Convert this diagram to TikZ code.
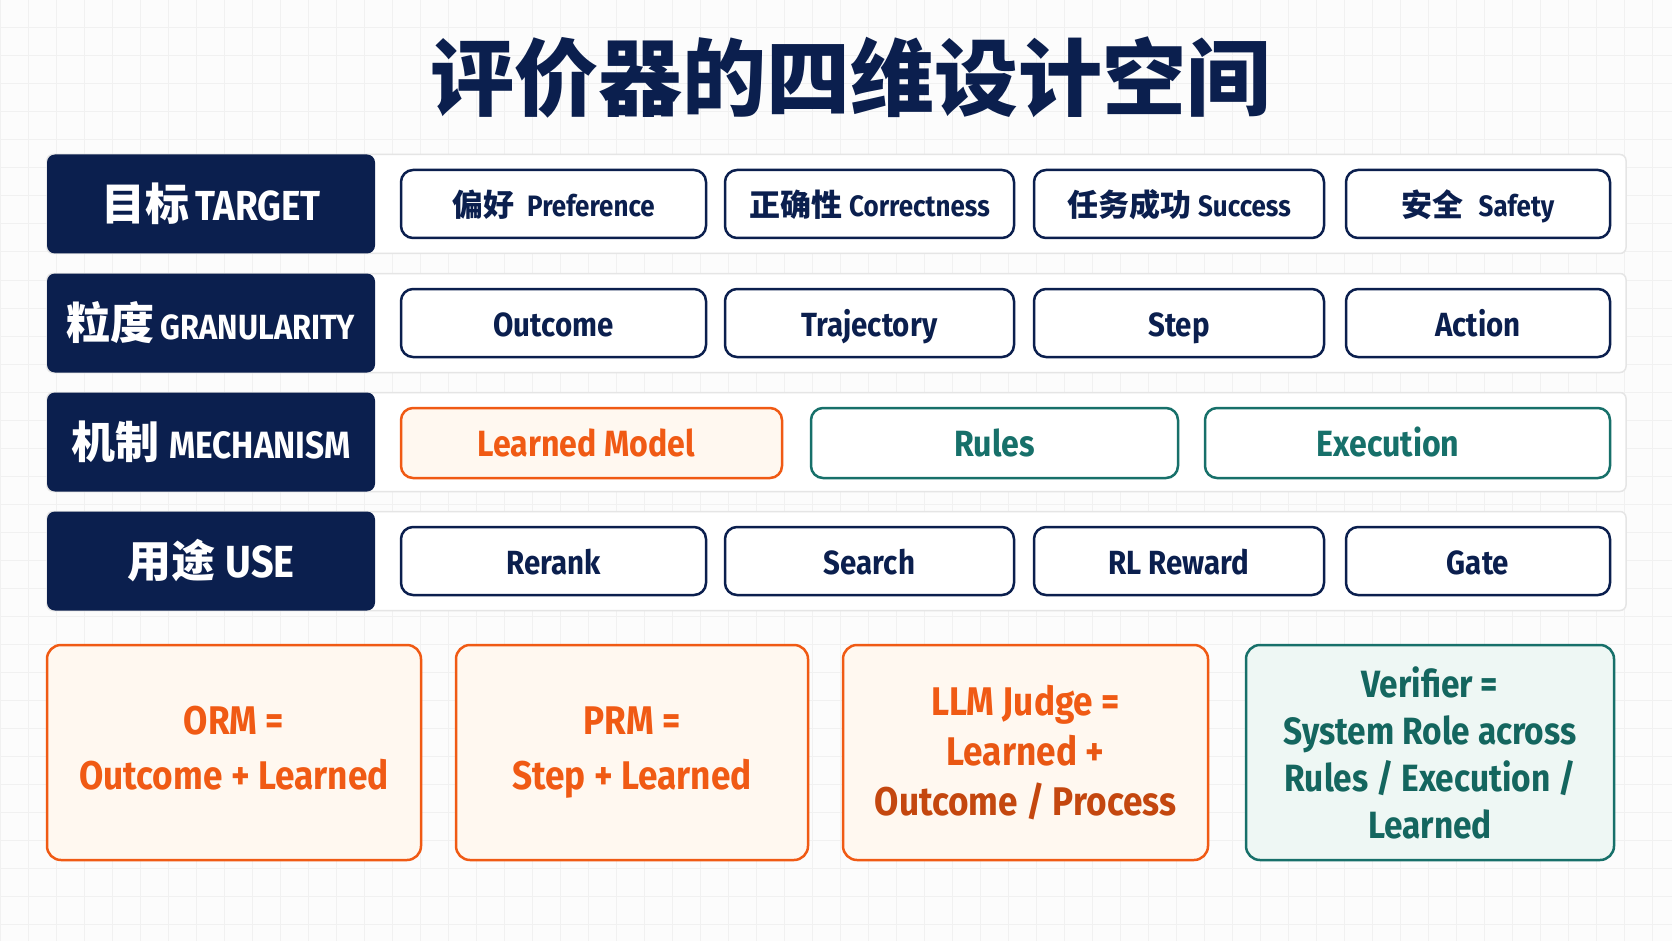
\documentclass[tikz,border=0pt]{standalone}
\usepackage{fontspec}
\setmainfont{Fira Sans}[FakeStretch=0.88]
\newfontfamily\cjk{Noto Sans CJK SC}

\definecolor{navy}{HTML}{0B1F4E}
\definecolor{accent}{HTML}{F05A14}
\definecolor{rust}{HTML}{C4470F}
\definecolor{tealc}{HTML}{17706A}
\definecolor{deepteal}{HTML}{14665F}
\definecolor{paper}{HTML}{FCFCFC}
\definecolor{gridc}{HTML}{F1F1F1}
\definecolor{panelline}{HTML}{E5E5E5}
\definecolor{warmfill}{HTML}{FFF8F0}
\definecolor{mintfill}{HTML}{EEF7F4}

\newcommand{\zh}[2]{{\cjk\fontsize{#1}{#1}\selectfont #2}}
\newcommand{\lat}[2]{{\fontsize{#1}{#1}\selectfont #2}}
\newcommand{\padright}[1]{\rule{#1}{0pt}}

\begin{document}
\begin{tikzpicture}[x=1pt, y=-1pt,
    dimbox/.style={fill=navy, rounded corners=8pt, inner sep=0pt,
        minimum width=328pt, minimum height=99pt, text=white, font=\bfseries},
    panel/.style={draw=panelline, line width=1.5pt, fill=white, rounded corners=6pt,
        inner sep=0pt, minimum width=1579pt, minimum height=99pt},
    item/.style={draw=navy, line width=2.5pt, fill=white, rounded corners=12pt,
        inner sep=0pt, minimum height=68pt, text height=26pt, text depth=0pt,
        text=navy, font=\bfseries\fontsize{33.5}{36}\selectfont},
    learnedbox/.style={item, draw=accent, fill=warmfill, text=accent, minimum height=70pt,
        text height=27pt, font=\bfseries\fontsize{36.5}{40}\selectfont},
    checkbox/.style={learnedbox, draw=tealc, fill=white, text=tealc},
    combo/.style={rounded corners=14pt, line width=2.5pt, inner sep=0pt,
        minimum height=215pt, align=center},
    warmcombo/.style={combo, draw=accent, fill=warmfill, text=accent,
        font=\bfseries\fontsize{40}{55}\selectfont},
    mintcombo/.style={combo, draw=tealc, fill=mintfill, text=deepteal,
        font=\bfseries\fontsize{38}{47}\selectfont}]

    % Background
    \fill[paper] (0,0) rectangle (1672,941);
    \useasboundingbox (0,0) rectangle (1672,941);
    \foreach \gx in {0,28,...,1672} \draw[gridc, line width=1pt] (\gx,0) -- (\gx,941);
    \foreach \gy in {0,28,...,941} \draw[gridc, line width=1pt] (0,\gy) -- (1672,\gy);

    % Title
    \node[text=navy, font=\cjk\bfseries\fontsize{84}{84}\selectfont] (title) at (850,77) {评价器的四维设计空间};

    % Row panels
    \node[panel] (p1) at (836.5,204) {};
    \node[panel] (p2) at (836.5,323) {};
    \node[panel] (p3) at (836.5,442) {};
    \node[panel] (p4) at (836.5,561) {};

    % Dimension labels
    \node[dimbox] (target) at (211,204) {\zh{44}{目标}\hspace{6pt}\lat{42}{TARGET}};
    \node[dimbox] (gran) at (211,323) {\zh{44}{粒度}\hspace{6pt}\lat{35}{GRANULARITY}};
    \node[dimbox] (mech) at (211,442) {\zh{44}{机制}\hspace{10pt}\lat{38}{MECHANISM}};
    \node[dimbox] (use) at (211,561) {\zh{44}{用途}\hspace{10pt}\lat{45}{USE}};

    % Targets
    \node[item, minimum width=305pt] (pref) at (553.5,204) {\zh{31}{偏好}\hspace{13pt}\lat{29.5}{Preference}};
    \node[item, minimum width=289pt] (corr) at (869.5,204) {\zh{31}{正确性}\hspace{7pt}\lat{29.5}{Correctness}};
    \node[item, minimum width=290pt] (succ) at (1179,204) {\zh{31}{任务成功}\hspace{7pt}\lat{29.5}{Success}};
    \node[item, minimum width=264pt] (safe) at (1478,204) {\zh{31}{安全}\hspace{15pt}\lat{29.5}{Safety}};

    % Granularity
    \node[item, minimum width=305pt] (outcome) at (553.5,323) {Outcome};
    \node[item, minimum width=289pt] (traj) at (869.5,323) {Trajectory};
    \node[item, minimum width=290pt] (step) at (1179,323) {Step};
    \node[item, minimum width=264pt] (action) at (1478,323) {Action};

    % Mechanism
    \node[learnedbox, minimum width=381pt] (learned) at (591.5,443) {Learned Model\padright{10pt}};
    \node[checkbox, minimum width=367pt] (rules) at (994.5,443) {Rules};
    \node[checkbox, minimum width=405pt] (exec) at (1407.5,443) {Execution\padright{39pt}};

    % Use
    \node[item, minimum width=305pt] (rerank) at (553.5,561) {Rerank};
    \node[item, minimum width=289pt] (search) at (869.5,561) {Search};
    \node[item, minimum width=290pt] (reward) at (1179,561) {RL Reward};
    \node[item, minimum width=264pt] (gate) at (1478,561) {Gate};

    % Combinations
    \node[warmcombo, minimum width=374pt] (orm) at (234,752.5) {ORM =\\Outcome + Learned\vphantom{p}};
    \node[warmcombo, minimum width=352pt] (prm) at (632,752.5) {PRM =\\Step + Learned};
    \node[warmcombo, minimum width=365pt, font=\bfseries\fontsize{40}{50}\selectfont] (judge) at (1025.5,752.5)
        {LLM Judge =\\\textcolor{accent!85!rust}{Learned +}\\\textcolor{rust}{Outcome / Process}};
    \node[mintcombo, minimum width=368pt] (verifier) at (1430,752.5)
        {Verifier =\\System Role across\\Rules / Execution /\\Learned};
\end{tikzpicture}
\end{document}
